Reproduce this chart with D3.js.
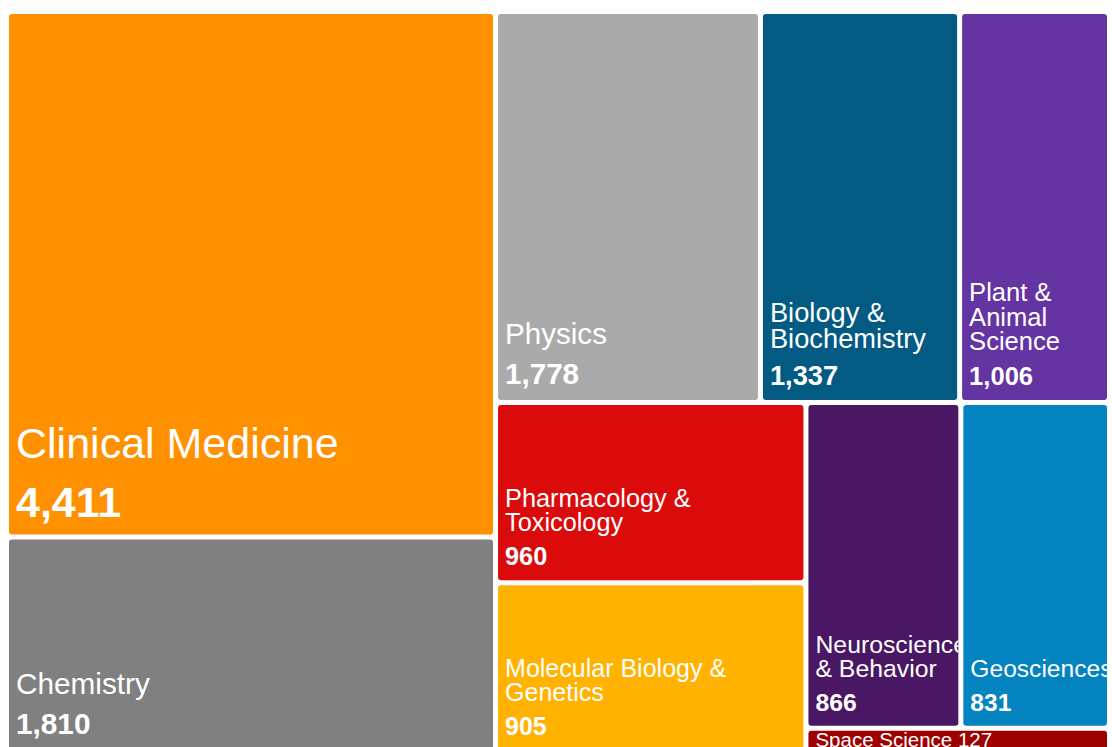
<!DOCTYPE html>
<html>
<head>
<meta charset="utf-8">
<script src="https://cdn.jsdelivr.net/npm/d3@7"></script>
<style>
  body { margin: 0; overflow: hidden; background: #fff; }
  text { font-family: "Liberation Sans", Arial, sans-serif; fill: #fff; }
</style>
</head>
<body>
<script>
// categories and counts
const categories = [
  "Clinical Medicine", "Chemistry", "Physics", "Biology & Biochemistry",
  "Plant & Animal Science", "Pharmacology & Toxicology", "Molecular Biology & Genetics",
  "Neuroscience & Behavior", "Geosciences", "Space Science"
];
const counts = [4411, 1810, 1778, 1337, 1006, 960, 905, 866, 831, 127];

const w = 1098;
const h = 736;
const offsetX = 9;
const offsetY = 14;
const pad = 8;

const color = d3.scaleOrdinal()
  .domain(categories)
  .range(["#ff9000", "#808080", "#aaaaaa", "#035a82", "#6534a3",
          "#db0b0b", "#ffb300", "#4a1764", "#0383bf", "#9e0000"]);

// font grows with the tile value
const fontScale = d3.scaleLinear()
  .domain([127, 900, 1800, 4411])
  .range([20.5, 25, 29.7, 43]);

const fmt = d3.format(",");

const svg = d3.select("body")
  .append("svg")
  .attr("width", 1112)
  .attr("height", 747);

const root = d3.hierarchy({ children: categories.map((c, i) => ({ name: c, value: counts[i] })) })
  .sum((d) => d.value)
  .sort((a, b) => b.value - a.value);

d3.treemap()
  .tile(d3.treemapSquarify)
  .size([w, h])
  .paddingInner(5)(root);

const g = svg.append("g").attr("transform", "translate(" + offsetX + "," + offsetY + ")");

const cell = g.selectAll(".cell")
  .data(root.leaves())
  .enter()
  .append("g")
  .attr("class", "cell")
  .attr("transform", (d) => "translate(" + d.x0 + "," + d.y0 + ")");

cell.append("clipPath")
  .attr("id", (d, i) => "clip" + i)
  .append("rect")
  .attr("width", (d) => d.x1 - d.x0)
  .attr("height", (d) => d.y1 - d.y0);

cell.append("rect")
  .attr("width", (d) => d.x1 - d.x0)
  .attr("height", (d) => d.y1 - d.y0)
  .attr("rx", 3)
  .attr("ry", 3)
  .style("fill", (d) => color(d.data.name));

cell.each(function (d, i) {
  const node = d3.select(this);
  const cw = d.x1 - d.x0;
  const ch = d.y1 - d.y0;
  const fs = fontScale(d.value);
  const text = node.append("text")
    .attr("clip-path", "url(#clip" + i + ")")
    .style("font-size", fs + "px");

  // tiny tile: one line at the top
  if (ch < fs * 2.5) {
    text.append("tspan")
      .attr("x", pad - 1)
      .attr("y", fs * 0.8)
      .text(d.data.name + " " + fmt(d.value));
    return;
  }

  // wrap the name by words
  const words = d.data.name.split(" ");
  const lines = [];
  let line = [];
  const probe = text.append("tspan");
  words.forEach((word) => {
    const test = line.concat([word]).join(" ");
    probe.text(test);
    if (probe.node().getComputedTextLength() > cw - 2 * pad && line.length) {
      lines.push(line.join(" "));
      line = [word];
    } else {
      line.push(word);
    }
  });
  lines.push(line.join(" "));
  probe.remove();

  const valueY = ch - (11 + 0.16 * fs);
  const lastY = valueY - 1.35 * fs;
  lines.forEach((l, k) => {
    text.append("tspan")
      .attr("x", pad - 1)
      .attr("y", lastY - (lines.length - 1 - k) * 0.96 * fs)
      .text(l);
  });
  text.append("tspan")
    .attr("x", pad - 1)
    .attr("y", valueY)
    .style("font-weight", "bold")
    .text(fmt(d.value));
});
</script>
</body>
</html>
